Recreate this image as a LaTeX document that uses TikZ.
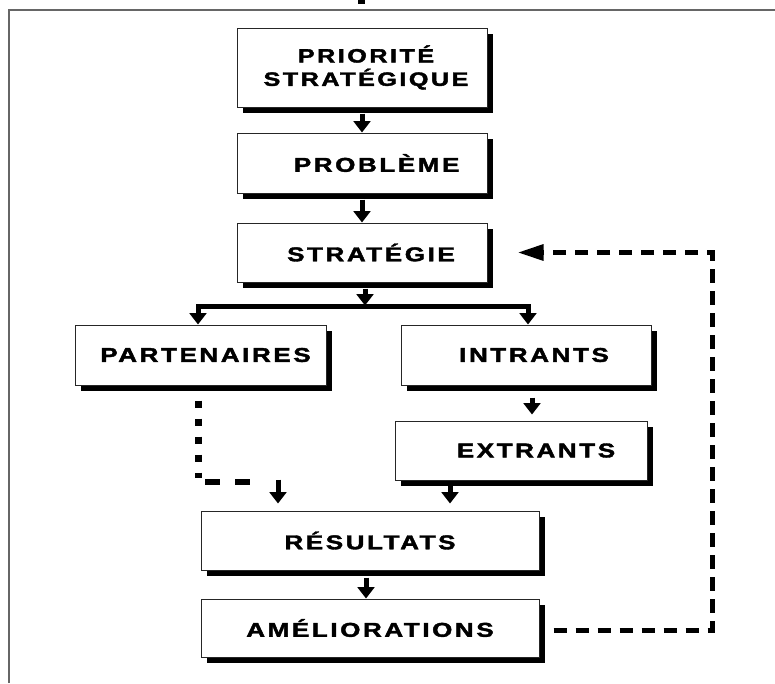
\documentclass[tikz,border=0pt]{standalone}
\usepackage{fontspec}
\setmainfont{Liberation Sans}[LetterSpace=10, BoldFeatures={FakeBold=1.8}]
\usetikzlibrary{arrows.meta,shadows}

\newcommand\lbl[1]{\scalebox{1.3}[1]{#1}}

\tikzset{
  box/.style={draw=black!85, line width=0.75pt, fill=white, font=\bfseries\fontsize{15}{17}\selectfont,
    align=center, inner sep=0pt,
    drop shadow={shadow xshift=4.5pt, shadow yshift=-4.5pt, opacity=1, fill=black}},
  arr/.style={line width=3.75pt, -{Triangle[width=12.5pt,length=8.5pt]}},
  bar/.style={line width=3.75pt, line cap=rect},
  fback/.style={line width=3.75pt, dash pattern=on 10pt off 6.5pt, -{Triangle[width=11.5pt,length=19.5pt]}},
  dotv/.style={line width=5.25pt, dash pattern=on 5.25pt off 8.25pt},
  doth/.style={line width=4.5pt, dash pattern=on 11.25pt off 11.25pt},
  frame/.style={draw=black!60, line width=1.5pt}
}

\begin{document}
\begin{tikzpicture}[x=0.75pt, y=-0.75pt]
  \useasboundingbox (0,0) rectangle (775,683);

  % outer frame and the cut title
  \draw[frame] (9,683) -- (9,9.5) -- (775,9.5);
  \fill (358,0) rectangle (365,4);

  % boxes
  \node[box, minimum width=187.5pt, minimum height=59.25pt, font=\bfseries\fontsize{14.5}{17.5}\selectfont] (prio) at (362,67.5) {\hspace*{6pt}\lbl{PRIORITÉ}\\\hspace*{6pt}\lbl{STRATÉGIQUE}};
  \node[box, minimum width=187.5pt, minimum height=45pt] (prob) at (362,163) {\hspace*{22pt}\lbl{PROBLÈME}};
  \node[box, minimum width=187.5pt, minimum height=44.25pt] (strat) at (362,252.5) {\hspace*{13.5pt}\lbl{STRATÉGIE}};
  \node[box, minimum width=188.25pt, minimum height=45pt] (part) at (200.5,355) {\hspace*{7.5pt}\lbl{PARTENAIRES}};
  \node[box, minimum width=187.5pt, minimum height=45pt] (intr) at (526,355) {\hspace*{12pt}\lbl{INTRANTS}};
  \node[box, minimum width=189pt, minimum height=44.25pt] (extr) at (521,450.5) {\hspace*{22.5pt}\lbl{EXTRANTS}};
  \node[box, minimum width=253.5pt, minimum height=44.25pt] (resu) at (370,540.5) {\lbl{RÉSULTATS}};
  \node[box, minimum width=253.5pt, minimum height=43.5pt] (amel) at (370,628) {\lbl{AMÉLIORATIONS}};

  % split under the strategy
  \coordinate (lft) at (198,306);
  \coordinate (rgt) at (528,306);
  \coordinate (pcorner) at (198,482);
  \coordinate (loopb) at (712,630);
  \coordinate (loopt) at (712,252.5);

  \draw[arr] (prio.south) ++(0,6) -- (prob.north);
  \draw[arr] (prob.south) ++(0,6) -- (strat.north);
  \draw[arr] (strat.south) ++(3,6) -- ++(0,17);
  \draw[bar] (lft) -- (rgt);
  \draw[arr] (lft) -- (lft |- part.north);
  \draw[arr] (rgt) -- (rgt |- intr.north);
  \draw[arr] (intr.south) ++(6,12) -- ++(0,17);
  \draw[arr] (extr.south) ++(-71,5) -- ++(0,18);
  \draw[arr] (resu.south) ++(-4,7) -- ++(0,21);

  % partners, dashed
  \draw[dotv] (part.south) ++(-2.5,15) -- ([yshift=3pt]pcorner);
  \draw[doth] ([xshift=5.25pt]pcorner) -- ++(52,0);
  \draw[arr] (part.south) ++(77.5,94) -- ++(0,24);

  % feedback loop
  \draw[fback] (amel.east) ++(14,2) -- (loopb) -- (loopt) -- ([xshift=22.5pt]strat.east);
\end{tikzpicture}
\end{document}
